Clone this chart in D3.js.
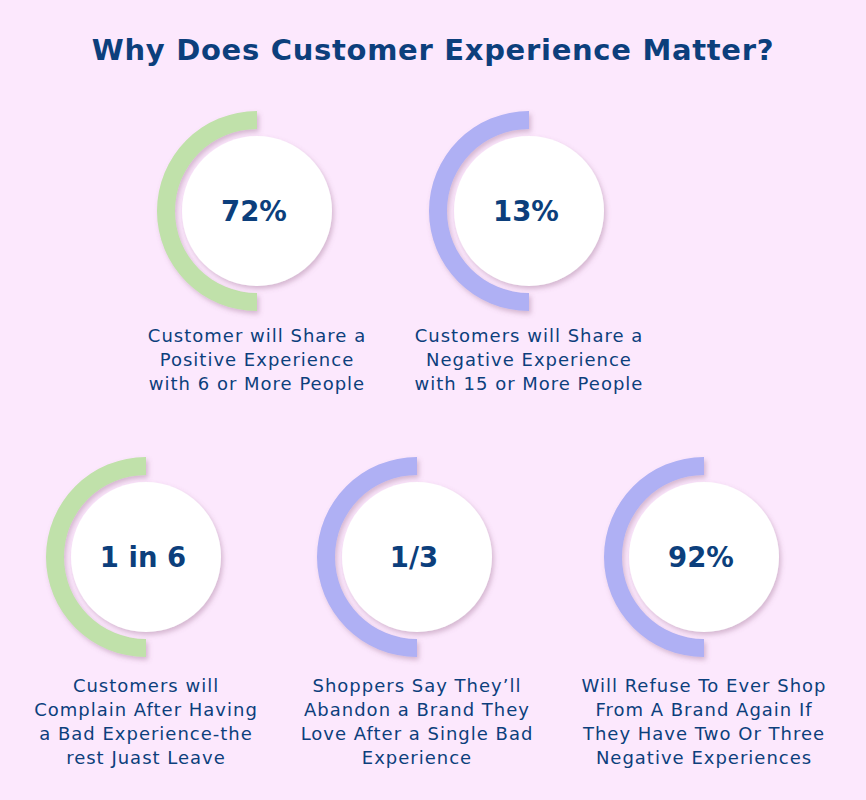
<!DOCTYPE html>
<html>
<head>
<meta charset="utf-8">
<script src="https://cdn.jsdelivr.net/npm/d3@7"></script>
<style>
    body { margin: 0; background: #fce8fd; }
    svg { display: block; }
</style>
</head>
<body>
<div id="chart"></div>
<script>
    "use strict";

    // chart data
    var titleText = 'Why Does Customer Experience Matter?';
    var statIds = ['positive', 'negative', 'complain', 'abandon', 'refuse'];
    var statValues = ['72%', '13%', '1 in 6', '1/3', '92%'];
    var statKinds = ['good', 'bad', 'good', 'bad', 'bad'];
    var ringShare = [0.5, 0.5, 0.5, 0.5, 0.5];  // half ring on every card
    var statLabels = [
        ['Customer will Share a', 'Positive Experience', 'with 6 or More People'],
        ['Customers will Share a', 'Negative Experience', 'with 15 or More People'],
        ['Customers will', 'Complain After Having', 'a Bad Experience-the', 'rest Juast Leave'],
        ['Shoppers Say They\u2019ll', 'Abandon a Brand They', 'Love After a Single Bad', 'Experience'],
        ['Will Refuse To Ever Shop', 'From A Brand Again If', 'They Have Two Or Three', 'Negative Experiences']
    ];
    var rowOf = [0, 0, 1, 1, 1];

    var dataset = statIds.map(function (id, i) {
        return { id: id, value: statValues[i], kind: statKinds[i], share: ringShare[i], label: statLabels[i], row: rowOf[i] };
    });

    //canvas
    var svgWidth = 866, svgHeight = 800;
    var textColor = '#0c3f7c';

    var svg = d3.select('#chart')
        .append('svg')
        .attr('width', svgWidth)
        .attr('height', svgHeight);

    svg.append('rect')
        .attr('width', svgWidth)
        .attr('height', svgHeight)
        .attr('fill', '#fce8fd');

    var defs = svg.append('defs');
    var f = defs.append('filter').attr('id', 'shadow')
        .attr('x', '-20%').attr('y', '-20%').attr('width', '140%').attr('height', '140%');
    f.append('feDropShadow')
        .attr('dx', 2).attr('dy', 3).attr('stdDeviation', 2.5)
        .attr('flood-color', '#8a5a7e').attr('flood-opacity', 0.35);

    //layout scales
    var colX = {
        0: d3.scaleOrdinal().domain(['positive', 'negative']).range([257, 529]),
        1: d3.scaleOrdinal().domain(['complain', 'abandon', 'refuse']).range([146, 417, 704])
    };
    var rowY = d3.scaleOrdinal().domain([0, 1]).range([211, 557]);
    var labelY = d3.scaleOrdinal().domain([0, 1]).range([342, 692]);
    var kindColor = d3.scaleOrdinal().domain(['good', 'bad']).range(['#c0e1aa', '#afb0f4']);
    var ringAngle = d3.scaleLinear().domain([0, 1]).range([0, 2 * Math.PI]);

    var arc = d3.arc()
        .innerRadius(82)
        .outerRadius(100);

    //title
    svg.append('text')
        .attr('x', 433)
        .attr('y', 60)
        .attr('text-anchor', 'middle')
        .attr('font-family', '"DejaVu Sans", sans-serif')
        .attr('font-weight', 700)
        .attr('font-size', 29)
        .attr('letter-spacing', 0.7)
        .attr('fill', textColor)
        .text(titleText);

    var cards = svg.selectAll('g.card')
        .data(dataset)
        .enter()
        .append('g')
        .attr('class', 'card')
        .attr('transform', function (d) {
            return 'translate(' + [colX[d.row](d.id), rowY(d.row)] + ')';
        });

    //ring (left half)
    cards.append('path')
        .attr('d', function (d) {
            return arc({ startAngle: ringAngle(1 - d.share), endAngle: ringAngle(1) });
        })
        .attr('fill', function (d) { return kindColor(d.kind); })
        .attr('filter', 'url(#shadow)');

    //white disc
    cards.append('circle')
        .attr('r', 75)
        .attr('fill', '#ffffff')
        .attr('filter', 'url(#shadow)');

    //big number
    cards.append('text')
        .attr('x', -3)
        .attr('y', 10)
        .attr('text-anchor', 'middle')
        .attr('font-family', '"DejaVu Sans", sans-serif')
        .attr('font-weight', 700)
        .attr('font-size', 27.5)
        .attr('fill', textColor)
        .text(function (d) { return d.value; });

    //description
    cards.each(function (d) {
        var g = d3.select(this);
        var t = g.append('text')
            .attr('text-anchor', 'middle')
            .attr('font-family', '"DejaVu Sans", sans-serif')
            .attr('font-size', 18)
            .attr('letter-spacing', 1)
            .attr('fill', textColor);
        t.selectAll('tspan')
            .data(d.label)
            .enter()
            .append('tspan')
            .attr('x', 0)
            .attr('y', function (line, i) { return labelY(d.row) - rowY(d.row) + i * 24; })
            .text(function (line) { return line; });
    });
</script>
</body>
</html>
